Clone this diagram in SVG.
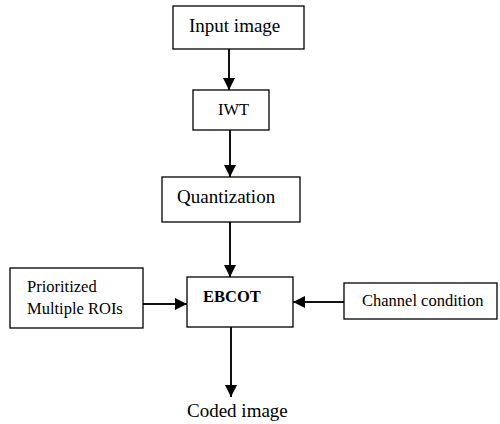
<svg xmlns="http://www.w3.org/2000/svg" width="500" height="424" viewBox="0 0 500 424">
  <defs>
    <marker id="arrow" markerUnits="userSpaceOnUse" markerWidth="12" markerHeight="12" refX="12" refY="6" orient="auto">
      <path d="M0,0 L12,6 L0,12 Z" fill="#000"/>
    </marker>
  </defs>
  <style>
    .box { fill: #fff; stroke: #000; stroke-width: 1.3; }
    .lbl { font-family: "Liberation Serif", "Times New Roman", serif; fill: #000; }
    .big { font-size: 19px; }
    .small { font-size: 16.5px; }
    .bold { font-weight: bold; }
    .edge { stroke: #111; stroke-width: 2; fill: none; marker-end: url(#arrow); }
  </style>
  <rect width="500" height="424" fill="#fff"/>

  <g id="connectors">
    <line class="edge" x1="229" y1="49" x2="229" y2="90"/>
    <line class="edge" x1="230" y1="130" x2="230" y2="177"/>
    <line class="edge" x1="230" y1="222" x2="230" y2="277"/>
    <line class="edge" x1="143" y1="304" x2="187" y2="304"/>
    <line class="edge" x1="344" y1="302" x2="293" y2="302"/>
    <line class="edge" x1="231" y1="327" x2="231" y2="397"/>
  </g>

  <g id="input-image">
    <rect class="box" x="173" y="6" width="131" height="43"/>
    <text class="lbl big" x="189" y="32">Input image</text>
  </g>

  <g id="iwt">
    <rect class="box" x="193" y="90" width="76" height="40"/>
    <text class="lbl small" x="218" y="115">IWT</text>
  </g>

  <g id="quantization">
    <rect class="box" x="162" y="177" width="138" height="45"/>
    <text class="lbl big" x="177" y="203">Quantization</text>
  </g>

  <g id="ebcot">
    <rect class="box" x="187" y="277" width="106" height="50"/>
    <text class="lbl small bold" x="203" y="302">EBCOT</text>
  </g>

  <g id="prioritized-rois">
    <rect class="box" x="10" y="268" width="133" height="60"/>
    <text class="lbl small" x="27" y="292">Prioritized</text>
    <text class="lbl small" x="27" y="314">Multiple ROIs</text>
  </g>

  <g id="channel-condition">
    <rect class="box" x="344" y="283" width="153" height="36"/>
    <text class="lbl small" x="362" y="306">Channel condition</text>
  </g>

  <g id="coded-image">
    <text class="lbl big" x="187" y="417">Coded image</text>
  </g>
</svg>
